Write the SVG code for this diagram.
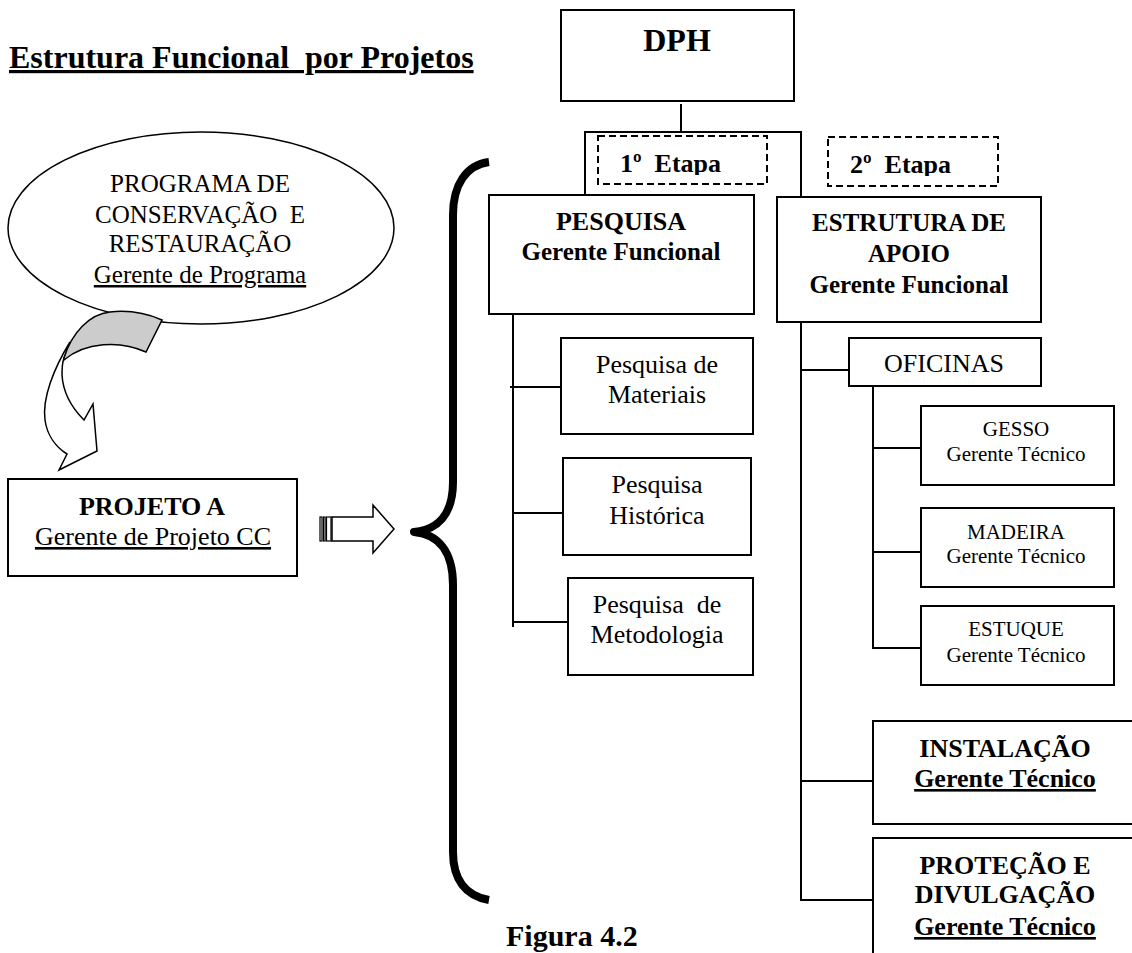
<svg xmlns="http://www.w3.org/2000/svg" width="1132" height="953" viewBox="0 0 1132 953">
  <style>
    .box { fill: #fff; stroke: #000; stroke-width: 2; }
    .dash { fill: #fff; stroke: #000; stroke-width: 2; stroke-dasharray: 7 4; }
    .link { fill: none; stroke: #000; stroke-width: 2; }
    text { font-family: "Liberation Serif", "Times New Roman", serif; fill: #000; white-space: pre; }
    .b { font-weight: bold; }
    .u { text-decoration: underline; }
    .c { text-anchor: middle; }
  </style>
  <defs>
    <clipPath id="clip-etapa1"><rect x="596" y="134" width="174" height="41"/></clipPath>
    <clipPath id="clip-etapa2"><rect x="826" y="135" width="174" height="41"/></clipPath>
  </defs>
  <rect width="1132" height="953" fill="#fff"/>

  <!-- heading -->
  <text x="9" y="68" class="b u" font-size="32">Estrutura Funcional  por Projetos</text>

  <!-- programme ellipse -->
  <g id="programa">
    <ellipse cx="201" cy="228" rx="193" ry="96" fill="#fff" stroke="#000" stroke-width="1.5"/>
    <text class="c" x="200" y="192" font-size="25">PROGRAMA DE</text>
    <text class="c" x="200" y="223" font-size="25">CONSERVAÇÃO  E</text>
    <text class="c" x="200" y="252" font-size="25">RESTAURAÇÃO</text>
    <text class="c u" x="200" y="283" font-size="25">Gerente de Programa</text>
  </g>

  <!-- curved arrow from programme to project -->
  <g id="seta-curva" stroke="#000" stroke-width="1.5" stroke-linejoin="miter">
    <path d="M70,342 C54,368 42,398 45,420 C47,435 56,447 67,454 L59,470 L97,451 L93,404 L84,420 C72,408 63,392 62,375 C62,368 62,363 64,358 Z" fill="#fff"/>
    <path d="M64,358 C72,332 90,314 110,312 C128,310 146,313 162,320 L146,352 C120,340 85,342 64,360 Z" fill="#ccc"/>
  </g>

  <!-- project box -->
  <g id="projeto-a">
    <rect class="box" x="8" y="479" width="289" height="97"/>
    <text class="c b" x="152" y="515" font-size="26">PROJETO A</text>
    <text class="c u" x="153" y="545" font-size="26">Gerente de Projeto CC</text>
  </g>

  <!-- striped block arrow -->
  <g id="seta-listrada" fill="#fff" stroke="#000" stroke-width="1.2">
    <rect x="320" y="517" width="2" height="24"/>
    <rect x="323.5" y="517" width="1.6" height="24"/>
    <rect x="326.5" y="517" width="4.5" height="24"/>
    <path d="M332,517 H373 V505 L394,529 L373,553 V541 H332 Z" stroke-width="1.5"/>
  </g>

  <!-- brace -->
  <path id="chave" d="M489,162 C466,165 453,185 453,215 L453,482 C453,515 437,530 414,532 C437,534 453,550 453,585 L453,852 C453,880 466,896 489,900" fill="none" stroke="#000" stroke-width="8" stroke-linejoin="round"/>

  <!-- connectors -->
  <g id="conectores" class="link">
    <path d="M681,104 V132"/>
    <path d="M585,195 V132 H801 V197"/>
    <path d="M513,310 V627"/>
    <path d="M510,387 H561"/>
    <path d="M513,513 H563"/>
    <path d="M513,622 H568"/>
    <path d="M801,317 V900 H873"/>
    <path d="M801,370 H849"/>
    <path d="M801,781 H873"/>
    <path d="M873,383 V648 H921"/>
    <path d="M873,448 H921"/>
    <path d="M873,552 H921"/>
  </g>

  <g id="dph">
    <rect class="box" x="561" y="10" width="233" height="91"/>
    <text class="c b" x="677" y="51" font-size="32">DPH</text>
  </g>

  <g id="etapa-1">
    <rect class="dash" x="598" y="136" width="169" height="48"/>
    <text class="b" x="620" y="172" font-size="26" clip-path="url(#clip-etapa1)">1º  Etapa</text>
  </g>

  <g id="etapa-2">
    <rect class="dash" x="828" y="137" width="170" height="49"/>
    <text class="b" x="850" y="173" font-size="26" clip-path="url(#clip-etapa2)">2º  Etapa</text>
  </g>

  <g id="pesquisa">
    <rect class="box" x="489" y="195" width="265" height="119"/>
    <text class="c b" x="621" y="230" font-size="26">PESQUISA</text>
    <text class="c b" x="621" y="260" font-size="25">Gerente Funcional</text>
  </g>

  <g id="estrutura-apoio">
    <rect class="box" x="777" y="197" width="264" height="125"/>
    <text class="c b" x="909" y="231" font-size="25">ESTRUTURA DE</text>
    <text class="c b" x="909" y="262" font-size="25">APOIO</text>
    <text class="c b" x="909" y="293" font-size="25">Gerente Funcional</text>
  </g>

  <g id="pesquisa-materiais">
    <rect class="box" x="561" y="338" width="192" height="96"/>
    <text class="c" x="657" y="373" font-size="26">Pesquisa de</text>
    <text class="c" x="657" y="403" font-size="26">Materiais</text>
  </g>

  <g id="pesquisa-historica">
    <rect class="box" x="563" y="458" width="188" height="97"/>
    <text class="c" x="657" y="493" font-size="26">Pesquisa</text>
    <text class="c" x="657" y="524" font-size="26">Histórica</text>
  </g>

  <g id="pesquisa-metodologia">
    <rect class="box" x="568" y="578" width="185" height="97"/>
    <text class="c" x="657" y="613" font-size="26">Pesquisa  de</text>
    <text class="c" x="657" y="643" font-size="26">Metodologia</text>
  </g>

  <g id="oficinas">
    <rect class="box" x="849" y="338" width="192" height="48"/>
    <text class="c" x="944" y="372" font-size="26">OFICINAS</text>
  </g>

  <g id="gesso">
    <rect class="box" x="921" y="406" width="193" height="79"/>
    <text class="c" x="1016" y="436" font-size="21">GESSO</text>
    <text class="c" x="1016" y="461" font-size="21">Gerente Técnico</text>
  </g>

  <g id="madeira">
    <rect class="box" x="921" y="508" width="193" height="79"/>
    <text class="c" x="1016" y="539" font-size="21">MADEIRA</text>
    <text class="c" x="1016" y="563" font-size="21">Gerente Técnico</text>
  </g>

  <g id="estuque">
    <rect class="box" x="921" y="606" width="193" height="79"/>
    <text class="c" x="1016" y="636" font-size="21">ESTUQUE</text>
    <text class="c" x="1016" y="662" font-size="21">Gerente Técnico</text>
  </g>

  <g id="instalacao">
    <rect class="box" x="873" y="721" width="270" height="103"/>
    <text class="c b" x="1005" y="757" font-size="26">INSTALAÇÃO</text>
    <text class="c b u" x="1005" y="787" font-size="26">Gerente Técnico</text>
  </g>

  <g id="protecao-divulgacao">
    <rect class="box" x="873" y="838" width="270" height="130"/>
    <text class="c b" x="1005" y="874" font-size="26">PROTEÇÃO E</text>
    <text class="c b" x="1005" y="903" font-size="26">DIVULGAÇÃO</text>
    <text class="c b u" x="1005" y="935" font-size="26">Gerente Técnico</text>
  </g>

  <!-- caption -->
  <text class="b" x="506" y="946" font-size="30">Figura 4.2</text>
</svg>
